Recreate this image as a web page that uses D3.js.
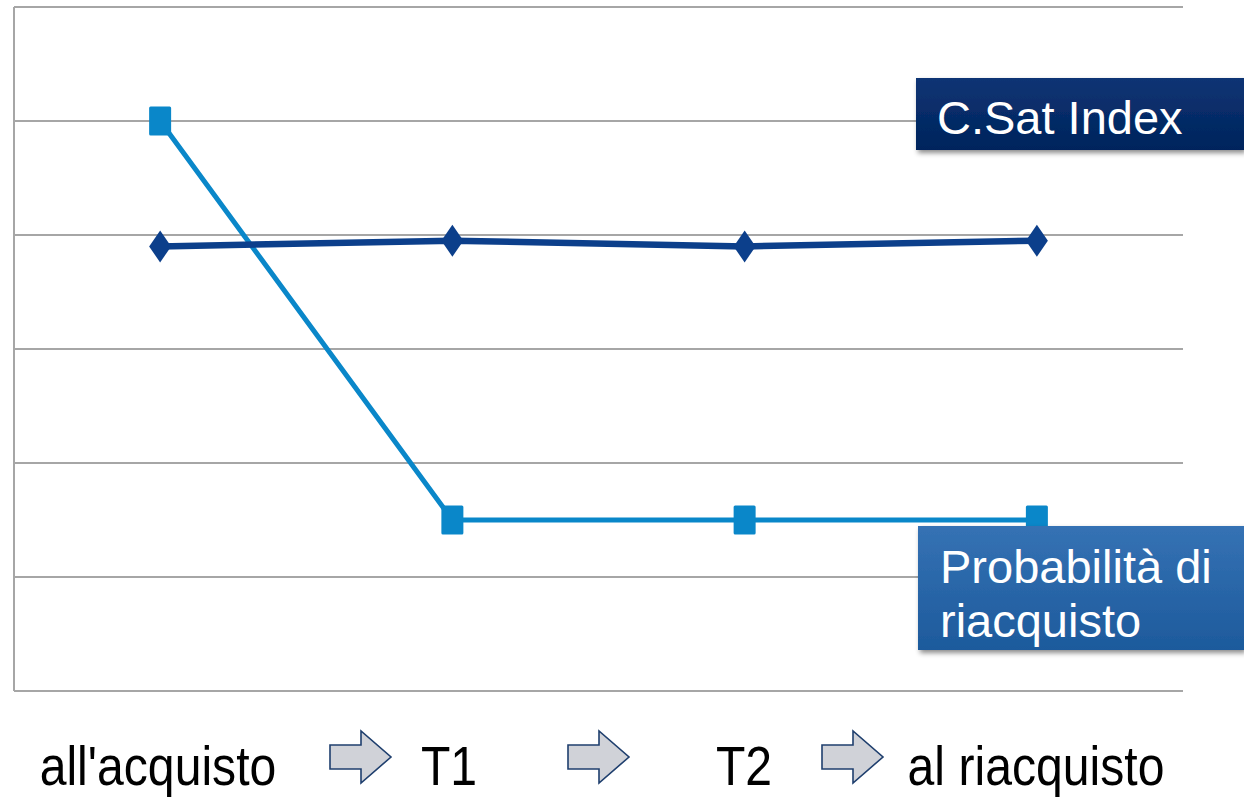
<!DOCTYPE html>
<html>
<head>
<meta charset="utf-8">
<script src="https://cdn.jsdelivr.net/npm/d3@7"></script>
<style>
  body { margin: 0; background: #fff; }
  svg { display: block; }
</style>
</head>
<body>
<div id="chart"></div>
<script>
// data
var categories = ["all'acquisto", "T1", "T2", "al riacquisto"];
var csatValues = [3.9, 3.95, 3.9, 3.95];
var probValues = [5, 1.5, 1.5, 1.5];
var yTicks = [0, 1, 2, 3, 4, 5, 6];
var seriesNames = ["C.Sat Index", ["Probabilità di", "riacquisto"]];

var svgWidth = 1244;
var svgHeight = 798;
var margin = { top: 7, right: 61, bottom: 107, left: 14 };
var width = svgWidth - margin.left - margin.right;
var height = svgHeight - margin.top - margin.bottom;

var svg = d3.select("#chart")
  .append("svg")
  .attr("width", svgWidth)
  .attr("height", svgHeight);

var defs = svg.append("defs");
var g1 = defs.append("linearGradient").attr("id", "gradNavy").attr("x1", 0).attr("y1", 0).attr("x2", 0).attr("y2", 1);
g1.append("stop").attr("offset", "0%").attr("stop-color", "#0b3474");
g1.append("stop").attr("offset", "100%").attr("stop-color", "#02245c");
var g2 = defs.append("linearGradient").attr("id", "gradBlue").attr("x1", 0).attr("y1", 0).attr("x2", 0).attr("y2", 1);
g2.append("stop").attr("offset", "0%").attr("stop-color", "#3572b4");
g2.append("stop").attr("offset", "100%").attr("stop-color", "#1d5a9c");
var sh = defs.append("filter").attr("id", "shadow").attr("x", "-10%").attr("y", "-10%").attr("width", "130%").attr("height", "140%");
sh.append("feDropShadow").attr("dx", 2).attr("dy", 3).attr("stdDeviation", 2.5).attr("flood-color", "#000").attr("flood-opacity", 0.45);

var chartGroup = svg.append("g")
  .attr("transform", `translate(${margin.left}, ${margin.top})`);

var xScale = d3.scaleBand().domain(categories).range([0, width]);
var yScale = d3.scaleLinear().domain([0, 6]).range([height, 0]);
var xc = function (d) { return xScale(d) + xScale.bandwidth() / 2; };

// gridlines
chartGroup.selectAll(".grid")
  .data(yTicks)
  .enter()
  .append("line")
  .attr("x1", 0)
  .attr("x2", width)
  .attr("y1", d => yScale(d))
  .attr("y2", d => yScale(d))
  .attr("stroke", "#a6a6a6")
  .attr("stroke-width", 2);
chartGroup.append("line")
  .attr("x1", 0).attr("x2", 0)
  .attr("y1", yScale(6)).attr("y2", yScale(0))
  .attr("stroke", "#a6a6a6")
  .attr("stroke-width", 2);

var line = d3.line()
  .x((d, i) => xc(categories[i]))
  .y(d => yScale(d));

// probabilita line
chartGroup.append("path")
  .datum(probValues)
  .attr("d", line)
  .attr("fill", "none")
  .attr("stroke", "#0a87c9")
  .attr("stroke-width", 5);

// c.sat line
chartGroup.append("path")
  .datum(csatValues)
  .attr("d", line)
  .attr("fill", "none")
  .attr("stroke", "#0c3f8b")
  .attr("stroke-width", 6.5);

chartGroup.selectAll(".sq")
  .data(probValues)
  .enter()
  .append("rect")
  .attr("x", (d, i) => xc(categories[i]) - 11)
  .attr("y", d => yScale(d) - 14.5)
  .attr("width", 22)
  .attr("height", 29)
  .attr("rx", 1.5)
  .attr("fill", "#0a87c9");

chartGroup.selectAll(".dia")
  .data(csatValues)
  .enter()
  .append("path")
  .attr("d", (d, i) => {
    var x = xc(categories[i]), y = yScale(d);
    return `M${x},${y - 16}L${x + 11},${y}L${x},${y + 16}L${x - 11},${y}Z`;
  })
  .attr("fill", "#0c3f8b");

// label boxes
var boxFont = "Liberation Sans, Arial, sans-serif";
var box1 = svg.append("g").attr("filter", "url(#shadow)");
box1.append("rect").attr("x", 916).attr("y", 78).attr("width", 328).attr("height", 72).attr("fill", "url(#gradNavy)");
svg.append("text")
  .attr("x", 937).attr("y", 134)
  .attr("fill", "#fff")
  .style("font-family", boxFont)
  .style("font-size", "47px")
  .text(seriesNames[0]);

var box2 = svg.append("g").attr("filter", "url(#shadow)");
box2.append("rect").attr("x", 918).attr("y", 526).attr("width", 326).attr("height", 124).attr("fill", "url(#gradBlue)");
svg.append("text")
  .attr("x", 940).attr("y", 583)
  .attr("fill", "#fff")
  .style("font-family", boxFont)
  .style("font-size", "47px")
  .text(seriesNames[1][0]);
svg.append("text")
  .attr("x", 940).attr("y", 637)
  .attr("fill", "#fff")
  .style("font-family", boxFont)
  .style("font-size", "47px")
  .text(seriesNames[1][1]);

// category labels along the bottom
var labelX = [158, 449, 744, 1036];
svg.selectAll(".cat")
  .data(categories)
  .enter()
  .append("text")
  .attr("transform", (d, i) => `translate(${labelX[i]}, 785) scale(0.86, 1)`)
  .attr("text-anchor", "middle")
  .attr("fill", "#000")
  .style("font-family", "Liberation Sans, Arial, sans-serif")
  .style("font-size", "56px")
  .text(d => d);

// block arrows between labels
var arrowX = [330, 568, 822];
svg.selectAll(".arr")
  .data(arrowX)
  .enter()
  .append("path")
  .attr("d", x => {
    var y = 757;
    return `M${x},${y - 12}L${x + 31},${y - 12}L${x + 31},${y - 26}L${x + 61},${y}` +
      `L${x + 31},${y + 26}L${x + 31},${y + 12}L${x},${y + 12}Z`;
  })
  .attr("fill", "#d0d2d8")
  .attr("stroke", "#1f3f6e")
  .attr("stroke-width", 1.6);
</script>
</body>
</html>
